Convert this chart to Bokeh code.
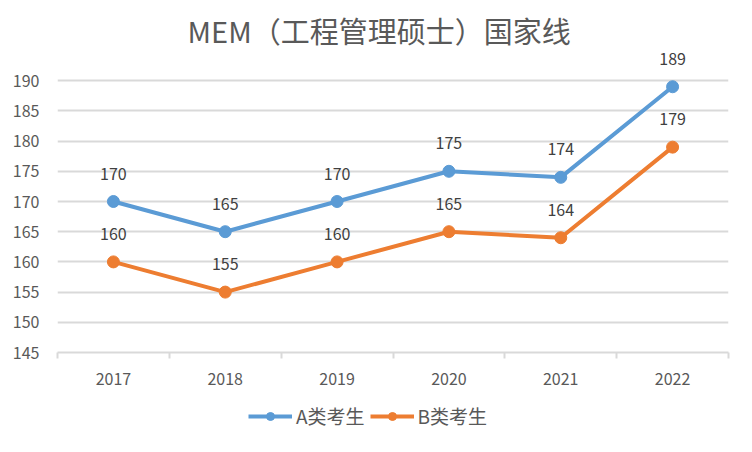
from bokeh.plotting import figure
from bokeh.layouts import column
from bokeh.models import ColumnDataSource, LabelSet, Legend, LegendItem, FixedTicker
from bokeh.core.properties import value
from bokeh.embed import file_html
from bokeh.resources import INLINE

years = [2017, 2018, 2019, 2020, 2021, 2022]
a_scores = [170, 165, 170, 175, 174, 189]
b_scores = [160, 155, 160, 165, 164, 179]
y_ticks = [145, 150, 155, 160, 165, 170, 175, 180, 185, 190]
title_text = "MEM（工程管理硕士）国家线"
series_names = ["A类考生", "B类考生"]

FONT = "Noto Sans CJK SC"
GRID = "#d9d9d9"
TXT = "#595959"
C_A = "#5B9BD5"
C_B = "#ED7D31"

src = ColumnDataSource(dict(
    x=years, a=a_scores, b=b_scores,
    a_txt=[str(v) for v in a_scores], b_txt=[str(v) for v in b_scores],
))

p = figure(width=752, height=400, output_backend="svg", toolbar_location=None,
           x_range=(years[0] - 0.5, years[-1] + 0.5), y_range=(y_ticks[0], 195),
           min_border_left=57, min_border_right=24, min_border_top=50, min_border_bottom=48)
p.outline_line_color = None
p.background_fill_color = "white"
p.border_fill_color = "white"

p.title.text = title_text
p.title.align = "left"
p.title.offset = 130
p.title.text_font = FONT
p.title.text_font_size = "29px"
p.title.text_font_style = "normal"
p.title.text_color = TXT
p.title.standoff = 0

# x axis
minor = [y - 0.5 for y in years] + [years[-1] + 0.5]
p.xaxis.ticker = FixedTicker(ticks=years, minor_ticks=minor)
p.xaxis.major_label_overrides = {y: str(y) for y in years}
p.xaxis.major_tick_line_color = None
p.xaxis.minor_tick_in = 0
p.xaxis.minor_tick_out = 6
p.xaxis.minor_tick_line_color = GRID
p.xaxis.minor_tick_line_width = 2
p.xaxis.axis_line_color = GRID
p.xaxis.axis_line_width = 2
p.xaxis.major_label_standoff = 14
p.xaxis.major_label_text_font = FONT
p.xaxis.major_label_text_font_size = "16px"
p.xaxis.major_label_text_color = TXT

# y axis
p.yaxis.ticker = FixedTicker(ticks=y_ticks)
p.yaxis.axis_line_color = None
p.yaxis.major_tick_line_color = None
p.yaxis.minor_tick_line_color = None
p.yaxis.major_label_standoff = 12
p.yaxis.major_label_text_font = FONT
p.yaxis.major_label_text_font_size = "16px"
p.yaxis.major_label_text_color = TXT

p.xgrid.visible = False
p.ygrid.ticker = FixedTicker(ticks=y_ticks)
p.ygrid.grid_line_color = GRID
p.ygrid.grid_line_width = 2

p.line("x", "a", source=src, line_color=C_A, line_width=4)
p.scatter("x", "a", source=src, size=12, fill_color=C_A, line_color=C_A)
p.line("x", "b", source=src, line_color=C_B, line_width=4)
p.scatter("x", "b", source=src, size=12, fill_color=C_B, line_color=C_B)

for col, ycol in [("a_txt", "a"), ("b_txt", "b")]:
    p.add_layout(LabelSet(x="x", y=ycol, text=col, source=src, y_offset=28,
                          text_align="center", text_baseline="middle",
                          text_font=value(FONT), text_font_size=value("16px"),
                          text_color="#404040"))

# legend strip (series drawn from the same data, outside this strip's ranges)
lg = figure(width=752, height=52, output_backend="svg", toolbar_location=None,
            x_range=(0, 1), y_range=(0, 1),
            min_border_left=57, min_border_right=24, min_border_top=0, min_border_bottom=0)
lg.axis.visible = False
lg.grid.visible = False
lg.outline_line_color = None
lg.background_fill_color = "white"
lg.border_fill_color = "white"
r = []
for c, ycol in [(C_A, "a"), (C_B, "b")]:
    ln = lg.line("x", ycol, source=src, line_color=c, line_width=4)
    sc = lg.scatter("x", ycol, source=src, size=13, fill_color=c, line_color=c)
    r.append([ln, sc])

legend = Legend(items=[LegendItem(label=series_names[0], renderers=r[0]),
                       LegendItem(label=series_names[1], renderers=r[1])],
                orientation="horizontal", location=(191, 23),
                padding=0, margin=0, spacing=5, glyph_width=44, glyph_height=20,
                label_standoff=4, label_text_font=FONT, label_text_font_size="19px",
                label_text_color=TXT, border_line_color=None, background_fill_alpha=0)
lg.add_layout(legend)

layout = column(p, lg, spacing=0)
open("out.html", "w").write(file_html(layout, INLINE))
